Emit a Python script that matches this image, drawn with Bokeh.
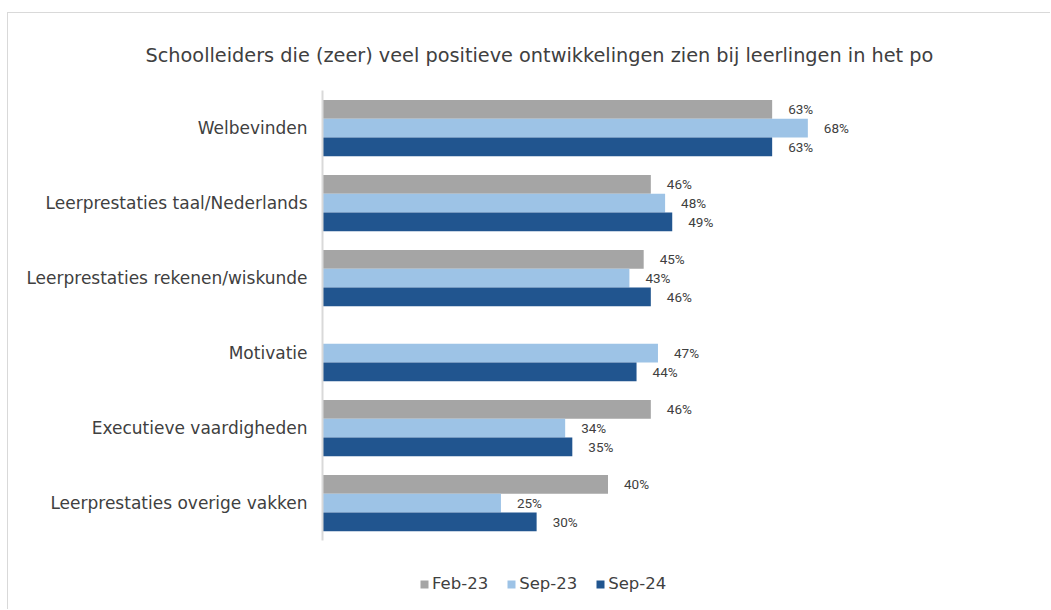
from bokeh.plotting import figure
from bokeh.models import ColumnDataSource, Range1d, Legend, LegendItem, Title, FixedTicker
from bokeh.transform import dodge
from bokeh.core.properties import value
from bokeh.embed import file_html
from bokeh.resources import INLINE

title_text = "Schoolleiders die (zeer) veel positieve ontwikkelingen zien bij leerlingen in het po"
categories = ["Welbevinden", "Leerprestaties taal/Nederlands", "Leerprestaties rekenen/wiskunde",
              "Motivatie", "Executieve vaardigheden", "Leerprestaties overige vakken"]
series_names = ["Feb-23", "Sep-23", "Sep-24"]
feb23 = [63, 46, 45, None, 46, 40]
sep23 = [68, 48, 43, 47, 34, 25]
sep24 = [63, 49, 46, 44, 35, 30]
colors = ["#a5a5a5", "#9dc3e6", "#21558f"]
offsets = [0.25, 0.0, -0.25]

FONT = "DejaVu Sans"
TXT = "#404040"

n = len(categories)
ypos = list(range(n - 1, -1, -1))  # first category on top

p = figure(width=1043, height=597, x_range=Range1d(0, 80),
           y_range=Range1d(-0.5 - 70 / 75, n - 0.5),
           output_backend="svg", toolbar_location=None, min_border_left=314,
           min_border_right=158, min_border_top=77, min_border_bottom=0)
p.styles = {"margin-left": "7px", "margin-top": "12px",
            "border-left": "1px solid #d9d9d9", "border-top": "1px solid #d9d9d9"}
p.outline_line_color = None
p.xgrid.visible = False
p.ygrid.visible = False
p.xaxis.visible = False

p.title = Title(text=title_text, align="left", offset=-177, standoff=43,
                vertical_align="top",
                text_font=FONT, text_font_size="19.3px", text_font_style="normal",
                text_color=TXT)

ya = p.yaxis[0]
ya.ticker = FixedTicker(ticks=ypos)
ya.major_label_overrides = {y: c for y, c in zip(ypos, categories)}
ya.bounds = (-0.5, n - 0.5)
ya.axis_line_color = "#d9d9d9"
ya.axis_line_width = 2
ya.major_tick_line_color = None
ya.minor_tick_line_color = None
ya.major_label_standoff = 9
ya.major_label_text_font = FONT
ya.major_label_text_font_size = "17px"
ya.major_label_text_color = TXT

items = []
for name, vals, col, off in zip(series_names, [feb23, sep23, sep24], colors, offsets):
    ys = [y for y, v in zip(ypos, vals) if v is not None]
    vs = [v for v in vals if v is not None]
    src = ColumnDataSource(dict(y=ys, val=vs, lab=[f"{v}%" for v in vs]))
    r = p.hbar(y=dodge("y", off), left=0, right="val", height=0.25,
               source=src, fill_color=col, line_color=None)
    p.text(x="val", y=dodge("y", off), text="lab", source=src,
           x_offset=16, text_baseline="middle", text_align="left",
           text_font=value("Roboto"), text_font_size="13.5px", text_color=TXT)
    items.append(LegendItem(label=name, renderers=[r]))

legend = Legend(items=items, orientation="horizontal", location=(97, 17),
                margin=0, padding=5, spacing=18, glyph_width=10, glyph_height=10,
                label_standoff=3, label_text_font=FONT, label_text_font_size="16.5px",
                label_text_color=TXT, border_line_color=None, background_fill_alpha=0)
p.add_layout(legend, "center")

open("out.html", "w").write(file_html(p, INLINE))
